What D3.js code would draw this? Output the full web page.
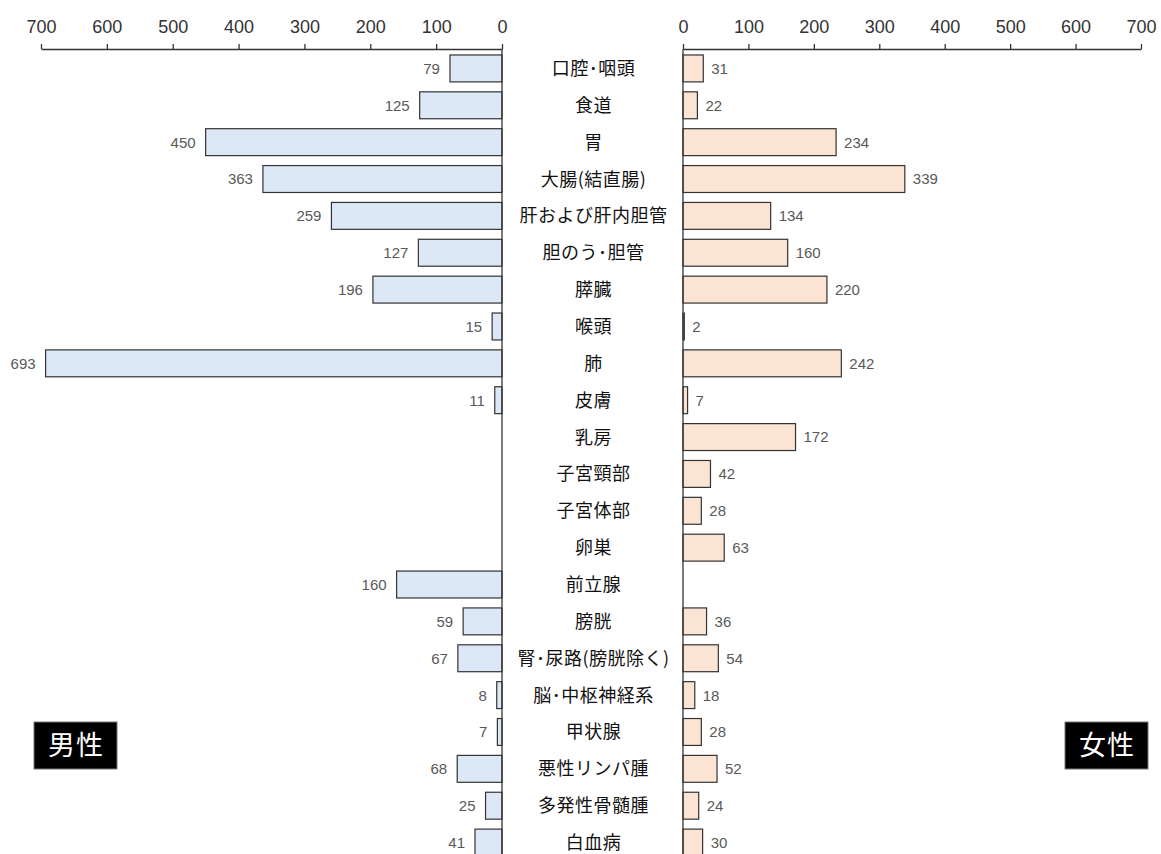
<!DOCTYPE html>
<html><head><meta charset="utf-8">
<script src="https://cdn.jsdelivr.net/npm/d3@7"></script>
<style>body{margin:0;background:#fff;overflow:hidden}svg{display:block}</style>
</head><body><svg id="c" width="1161" height="854"></svg>
<script>
const categories = ["口腔･咽頭","食道","胃","大腸(結直腸)","肝および肝内胆管","胆のう･胆管","膵臓","喉頭","肺","皮膚","乳房","子宮頸部","子宮体部","卵巣","前立腺","膀胱","腎･尿路(膀胱除く)","脳･中枢神経系","甲状腺","悪性リンパ腫","多発性骨髄腫","白血病"];
const male =   [79,125,450,363,259,127,196,15,693,11,null,null,null,null,160,59,67,8,7,68,25,41];
const female = [31,22,234,339,134,160,220,2,242,7,172,42,28,63,null,36,54,18,28,52,24,30];
const ticks = [0,100,200,300,400,500,600,700];

const svg = d3.select("#c");
const font = "'Noto Sans CJK JP','Noto Sans',sans-serif";
const numFont = "'Liberation Sans',Arial,sans-serif";
const xL = d3.scaleLinear().domain([0,700]).range([502,41]);
const xR = d3.scaleLinear().domain([0,700]).range([683,1141]);
const y = d3.scaleBand().domain(categories).range([50,861]).paddingInner(0.27).paddingOuter(0.135);

// axes
const axL = svg.append("g").attr("transform","translate(0,49)").call(d3.axisTop(xL).tickValues(ticks).tickSize(5).tickSizeOuter(0));
const axR = svg.append("g").attr("transform","translate(0,49)").call(d3.axisTop(xR).tickValues(ticks).tickSize(5).tickSizeOuter(0));
[axL,axR].forEach(a=>{
  a.select(".domain").attr("stroke","#333").attr("stroke-width",1.3);
  a.selectAll(".tick line").attr("stroke","#333").attr("stroke-width",1.3);
  a.selectAll(".tick text").attr("font-family",numFont).attr("font-size",18).attr("fill","#333").attr("dy","-0.42em");
});

const rows = categories.map((c,i)=>({c, m:male[i], f:female[i]}));

// male bars
svg.append("g").selectAll("rect").data(rows.filter(d=>d.m!=null)).join("rect")
  .attr("x",d=>xL(d.m)).attr("y",d=>y(d.c)).attr("width",d=>xL(0)-xL(d.m)).attr("height",y.bandwidth())
  .attr("fill","#dde8f6").attr("stroke","#333").attr("stroke-width",1.2);
svg.append("g").selectAll("text").data(rows.filter(d=>d.m!=null)).join("text")
  .attr("x",d=>xL(d.m)-10).attr("y",d=>y(d.c)+y.bandwidth()/2).attr("dy","0.36em")
  .attr("text-anchor","end").attr("font-family",numFont).attr("font-size",15).attr("fill","#595959").text(d=>d.m);

// female bars
svg.append("g").selectAll("rect").data(rows.filter(d=>d.f!=null)).join("rect")
  .attr("x",xR(0)).attr("y",d=>y(d.c)).attr("width",d=>xR(d.f)-xR(0)).attr("height",y.bandwidth())
  .attr("fill","#fce4d4").attr("stroke","#333").attr("stroke-width",1.2);
svg.append("g").selectAll("text").data(rows.filter(d=>d.f!=null)).join("text")
  .attr("x",d=>xR(d.f)+8).attr("y",d=>y(d.c)+y.bandwidth()/2).attr("dy","0.36em")
  .attr("text-anchor","start").attr("font-family",numFont).attr("font-size",15).attr("fill","#595959").text(d=>d.f);

// zero lines
svg.append("line").attr("x1",xL(0)).attr("x2",xL(0)).attr("y1",49).attr("y2",854).attr("stroke","#333").attr("stroke-width",1.3);
svg.append("line").attr("x1",xR(0)).attr("x2",xR(0)).attr("y1",49).attr("y2",854).attr("stroke","#333").attr("stroke-width",1.3);

// category labels
svg.append("g").selectAll("text").data(categories).join("text")
  .attr("x",(xL(0)+xR(0))/2+1).attr("y",d=>y(d)+y.bandwidth()/2).attr("dy","0.36em")
  .attr("text-anchor","middle").attr("font-family",font).attr("font-size",18).attr("letter-spacing","0.5px").attr("fill","#111").text(d=>d);

// sex labels
const sex = [{t:"男性",x:34},{t:"女性",x:1065}];
const sg = svg.append("g").selectAll("g").data(sex).join("g");
sg.append("rect").attr("x",d=>d.x).attr("y",722).attr("width",83).attr("height",47).attr("fill","#000").attr("stroke","#777").attr("stroke-width",1);
sg.append("text").attr("x",d=>d.x+42).attr("y",745.5).attr("dy","0.36em").attr("text-anchor","middle")
  .attr("font-family",font).attr("font-size",27).attr("fill","#fff").attr("letter-spacing","1px").text(d=>d.t);
</script></body></html>
